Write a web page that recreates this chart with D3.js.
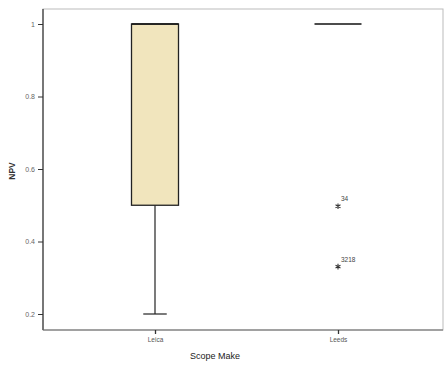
<!DOCTYPE html>
<html>
<head>
<meta charset="utf-8">
<script src="https://cdn.jsdelivr.net/npm/d3@7"></script>
<style>
  html, body { margin: 0; padding: 0; background: #fff; }
  svg { display: block; }
  text { font-family: "Liberation Sans", Arial, sans-serif; }
</style>
</head>
<body>
<svg id="chart" width="445" height="366"></svg>
<script>
// Box-plot summary per scope make
const categories = ["Leica", "Leeds"];
const whiskerLow = [0.2, 1];
const quartile1 = [0.5, 1];
const medians = [1, 1];
const quartile3 = [1, 1];
const whiskerHigh = [1, 1];
// Outlying cases (value, case label)
const outlierCategory = ["Leeds", "Leeds"];
const outlierValues = [0.5, 0.3333];
const outlierLabels = ["34", "3218"];
const yTicks = [0.2, 0.4, 0.6, 0.8, 1];

const svg = d3.select("#chart");
const plot = { left: 43, top: 9, right: 443, bottom: 330 };

const y = d3.scaleLinear().domain([0.2, 1]).range([314, 24]);
const x = d3.scalePoint().domain(categories).range([155, 338]);
const boxW = 47;

// frame
svg.append("rect")
  .attr("x", plot.left).attr("y", plot.top)
  .attr("width", plot.right - plot.left).attr("height", plot.bottom - plot.top)
  .attr("fill", "none").attr("stroke", "#bbb").attr("stroke-width", 1);

// axes
const yAxis = d3.axisLeft(y).tickValues(yTicks).tickSize(5).tickPadding(3)
  .tickFormat(d => d === 1 ? "1" : d3.format(".1f")(d));
svg.append("g").attr("transform", `translate(${plot.left},0)`).call(yAxis)
  .call(g => g.select(".domain").attr("d", `M0,${plot.top}V${plot.bottom}`).attr("stroke", "#555").attr("stroke-width", 1.5))
  .call(g => g.selectAll(".tick line").attr("stroke", "#333"))
  .call(g => g.selectAll(".tick text").attr("font-size", 7).attr("fill", "#666"));

const xAxis = d3.axisBottom(x).tickSize(4).tickPadding(3);
svg.append("g").attr("transform", `translate(0,${plot.bottom})`).call(xAxis)
  .call(g => g.select(".domain").attr("d", `M${plot.left},0H${plot.right}`).attr("stroke", "#666").attr("stroke-width", 1.2))
  .call(g => g.selectAll(".tick line").attr("stroke", "#333").attr("stroke-width", 1.3))
  .call(g => g.selectAll(".tick text").attr("font-size", 6.5).attr("fill", "#555"));

// axis titles
svg.append("text").attr("x", 215).attr("y", 359).attr("text-anchor", "middle")
  .attr("font-size", 9).attr("fill", "#222").text("Scope Make");
svg.append("text").attr("transform", "translate(15,171) rotate(-90)")
  .attr("text-anchor", "middle").attr("font-size", 8.5).attr("font-weight", "bold")
  .attr("fill", "#333").text("NPV");

// boxes
categories.forEach((c, i) => {
  const cx = x(c);
  const g = svg.append("g");
  // whisker stem and caps
  if (whiskerLow[i] < quartile1[i]) {
    g.append("line").attr("x1", cx).attr("x2", cx)
      .attr("y1", y(quartile1[i])).attr("y2", y(whiskerLow[i]))
      .attr("stroke", "#222").attr("stroke-width", 1.2);
    g.append("line").attr("x1", cx - boxW / 4).attr("x2", cx + boxW / 4)
      .attr("y1", y(whiskerLow[i])).attr("y2", y(whiskerLow[i]))
      .attr("stroke", "#222").attr("stroke-width", 1.2);
  }
  if (whiskerHigh[i] > quartile3[i]) {
    g.append("line").attr("x1", cx).attr("x2", cx)
      .attr("y1", y(quartile3[i])).attr("y2", y(whiskerHigh[i]))
      .attr("stroke", "#222").attr("stroke-width", 1.2);
  }
  if (quartile3[i] > quartile1[i]) {
    g.append("rect").attr("x", cx - boxW / 2).attr("width", boxW)
      .attr("y", y(quartile3[i])).attr("height", y(quartile1[i]) - y(quartile3[i]))
      .attr("fill", "#f1e5bd").attr("stroke", "#222").attr("stroke-width", 1.3);
  }
  g.append("line").attr("x1", cx - boxW / 2).attr("x2", cx + boxW / 2)
    .attr("y1", y(medians[i])).attr("y2", y(medians[i]))
    .attr("stroke", "#111").attr("stroke-width", 1.6);
});

// outliers drawn as asterisks with case labels
const star = d3.symbol().type(d3.symbolAsterisk).size(22);
outlierValues.forEach((v, i) => {
  const cx = x(outlierCategory[i]);
  svg.append("path").attr("d", star())
    .attr("transform", `translate(${cx},${y(v) + 1})`)
    .attr("fill", "none").attr("stroke", "#333").attr("stroke-width", 1.1);
  svg.append("text").attr("x", cx + 3).attr("y", y(v) - 4)
    .attr("font-size", 6.5).attr("fill", "#444").text(outlierLabels[i]);
});
</script>
</body>
</html>
